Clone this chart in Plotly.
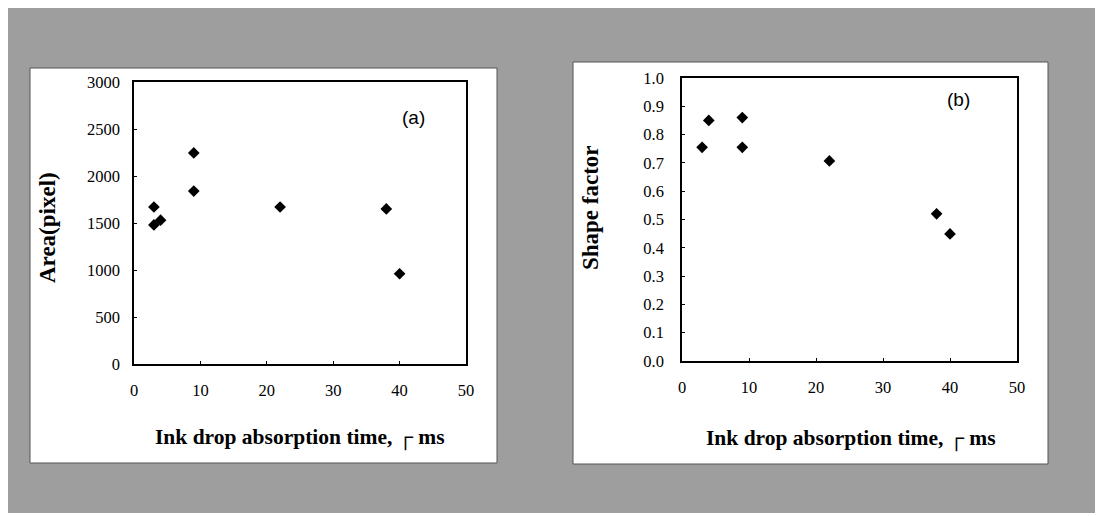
import plotly.graph_objects as go

# Panel (a): area vs absorption time
time_a = [3, 3, 4, 9, 9, 22, 38, 40]
area_px = [1670, 1480, 1530, 2245, 1840, 1670, 1650, 960]

# Panel (b): shape factor vs absorption time
time_b = [3, 4, 9, 9, 22, 38, 40]
shape_factor = [0.755, 0.85, 0.86, 0.755, 0.707, 0.52, 0.449]

x_ticks = [0, 10, 20, 30, 40, 50]
area_ticks = [0, 500, 1000, 1500, 2000, 2500, 3000]
shape_ticks = [0.0, 0.1, 0.2, 0.3, 0.4, 0.5, 0.6, 0.7, 0.8, 0.9, 1.0]

W, H = 1103, 516
OFF = 8  # page body margin offset
def px(x):
    return (x - OFF) / W
def py(y):
    return 1 - (y - OFF) / H

serif = "Liberation Serif"
marker = dict(symbol="diamond", size=9, color="black")

fig = go.Figure()
fig.add_trace(go.Scatter(x=time_a, y=area_px, mode="markers", marker=marker,
                         xaxis="x", yaxis="y", showlegend=False))
fig.add_trace(go.Scatter(x=time_b, y=shape_factor, mode="markers", marker=marker,
                         xaxis="x2", yaxis="y2", showlegend=False))

ax_common = dict(showline=True, linecolor="black", linewidth=1.6, mirror=True,
                 ticks="inside", ticklen=3, tickcolor="black", showgrid=False,
                 zeroline=False, automargin=False,
                 tickfont=dict(family=serif, size=16.5, color="black"))

fig.update_layout(
    width=W, height=H, margin=dict(l=0, r=0, t=0, b=0, pad=0, autoexpand=False),
    paper_bgcolor="white", plot_bgcolor="white", showlegend=False,
    xaxis=dict(domain=[px(134), px(466)], range=[0, 50], tickvals=x_ticks,
               anchor="y", ticklabelstandoff=10, **ax_common),
    yaxis=dict(domain=[py(364), py(82)], range=[0, 3000], tickvals=area_ticks,
               anchor="x", ticklabelstandoff=9, **ax_common),
    xaxis2=dict(domain=[px(682), px(1017)], range=[0, 50], tickvals=x_ticks,
                anchor="y2", ticklabelstandoff=10, **ax_common),
    yaxis2=dict(domain=[py(361), py(78)], range=[0, 1.0], tickvals=shape_ticks,
                tickformat=".1f", anchor="x2", ticklabelstandoff=13, **ax_common),
)

shapes = [
    dict(type="rect", xref="paper", yref="paper", x0=px(5), x1=px(1110), y0=py(513), y1=py(7),
         fillcolor="#9e9e9e", line=dict(width=0), layer="below"),
    dict(type="rect", xref="paper", yref="paper", x0=px(30), x1=px(497), y0=py(463), y1=py(68),
         fillcolor="white", line=dict(color="#555555", width=1), layer="below"),
    dict(type="rect", xref="paper", yref="paper", x0=px(573), x1=px(1048), y0=py(464), y1=py(62),
         fillcolor="white", line=dict(color="#555555", width=1), layer="below"),
]
fig.update_layout(shapes=shapes)

title_font = dict(family=serif, size=21.5, color="black", weight="bold")
ann = [
    dict(text="Ink drop absorption time, ┌ ms", x=px(300), y=py(438), font=title_font),
    dict(text="Ink drop absorption time, ┌ ms", x=px(851), y=py(439), font=title_font),
    dict(text="Area(pixel)", x=px(47), y=py(228), textangle=-90,
         font=dict(family=serif, size=23, color="black", weight="bold")),
    dict(text="Shape factor", x=px(590), y=py(208), textangle=-90,
         font=dict(family=serif, size=23, color="black", weight="bold")),
    dict(text="(a)", x=px(413), y=py(118), font=dict(family="Liberation Sans", size=19, color="black")),
    dict(text="(b)", x=px(958), y=py(100), font=dict(family="Liberation Sans", size=19, color="black")),
]
for a in ann:
    a.update(xref="paper", yref="paper", showarrow=False, xanchor="center", yanchor="middle")
fig.update_layout(annotations=ann)

fig.write_html("out.html")
